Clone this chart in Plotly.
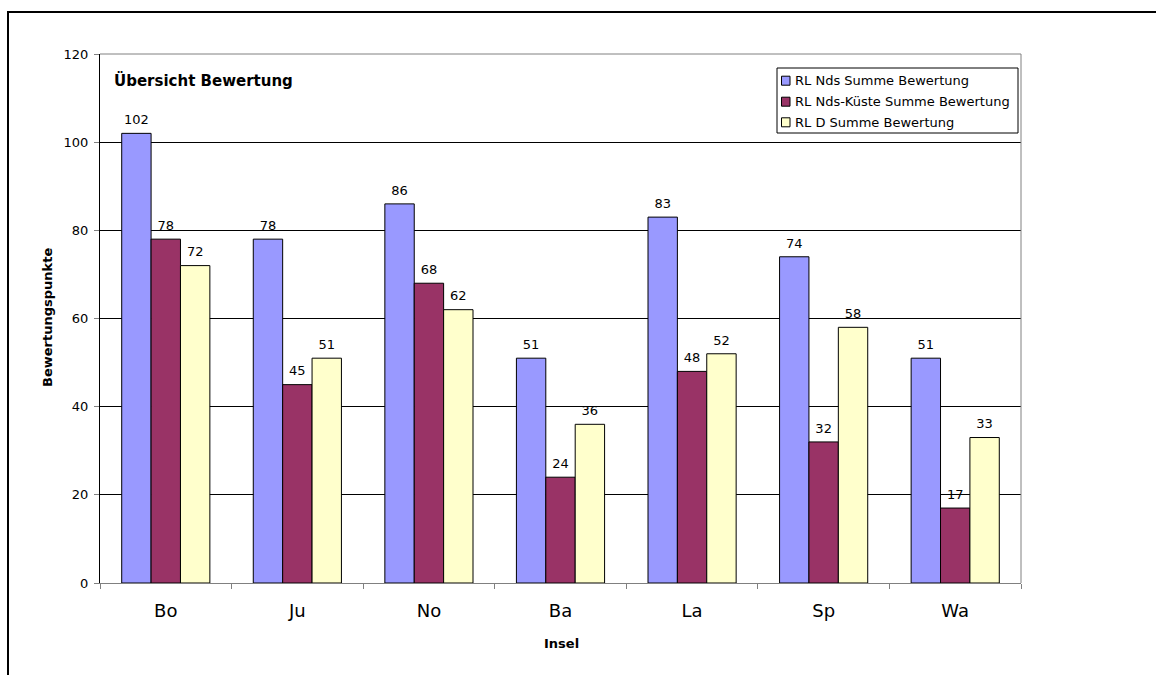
import plotly.graph_objects as go

categories = ["Bo", "Ju", "No", "Ba", "La", "Sp", "Wa"]
series_names = ["RL Nds Summe Bewertung", "RL Nds-Küste Summe Bewertung", "RL D Summe Bewertung"]
nds = [102, 78, 86, 51, 83, 74, 51]
nds_kueste = [78, 45, 68, 24, 48, 32, 17]
d_summe = [72, 51, 62, 36, 52, 58, 33]
colors = ["#9999FF", "#993366", "#FFFFCC"]

W, H = 1156, 675
L, R, T, B = 100, 1021, 54, 583          # plot area in page pixels
pw, ph = R - L, B - T

def px(x):
    return (x - L) / pw

def py(y):
    return (B - y) / ph

FONT = "DejaVu Sans, Verdana, sans-serif"

fig = go.Figure()
for i, (name, vals, col) in enumerate(zip(series_names, [nds, nds_kueste, d_summe], colors)):
    fig.add_trace(go.Bar(
        x=categories, y=vals, name=name, offsetgroup=str(i),
        marker=dict(color=col, line=dict(color="black", width=1)),
        showlegend=False, hoverinfo="skip",
    ))
for i, vals in enumerate([nds, nds_kueste, d_summe]):
    fig.add_trace(go.Scatter(
        x=categories, y=vals, offsetgroup=str(i), mode="markers+text",
        marker=dict(size=8, color="rgba(0,0,0,0)"),
        text=[str(v) for v in vals], textposition="top center",
        textfont=dict(family=FONT, size=13, color="black"),
        cliponaxis=False, showlegend=False, hoverinfo="skip",
    ))

shapes = [
    dict(type="line", xref="paper", yref="paper", x0=0, x1=1, y0=1, y1=1,
         line=dict(color="#808080", width=1), layer="above"),
    dict(type="line", xref="paper", yref="paper", x0=1, x1=1, y0=0, y1=1,
         line=dict(color="#808080", width=1), layer="above"),
    # outer frame (top and left visible)
    dict(type="line", xref="paper", yref="paper", x0=px(8), x1=px(1170), y0=py(12), y1=py(12),
         line=dict(color="black", width=2), layer="above"),
    dict(type="line", xref="paper", yref="paper", x0=px(8), x1=px(8), y0=py(11), y1=py(700),
         line=dict(color="black", width=2), layer="above"),
    # legend box
    dict(type="rect", xref="paper", yref="paper", x0=px(777), x1=px(1018), y0=py(68), y1=py(133),
         line=dict(color="black", width=1), fillcolor="white", layer="above"),
]

annotations = [
    dict(text="<b>Übersicht Bewertung</b>", xref="paper", yref="paper",
         x=px(112), y=py(80), xanchor="left", yanchor="middle", showarrow=False,
         font=dict(size=15, family=FONT, color="black")),
    dict(text="<b>Insel</b>", xref="paper", yref="paper",
         x=px(561), y=py(643), xanchor="center", yanchor="middle", showarrow=False,
         font=dict(size=13, family=FONT, color="black")),
    dict(text="<b>Bewertungspunkte</b>", xref="paper", yref="paper",
         x=px(47), y=py(318), xanchor="center", yanchor="middle", showarrow=False,
         textangle=-90, font=dict(size=13, family=FONT, color="black")),
]

# custom legend entries
row_y = [80.7, 101.7, 122.3]
for name, col, ry in zip(series_names, colors, row_y):
    shapes.append(dict(type="rect", xref="paper", yref="paper",
                       x0=px(781.5), x1=px(790), y0=py(ry - 4.5), y1=py(ry + 4.5),
                       line=dict(color="black", width=1), fillcolor=col, layer="above"))
    annotations.append(dict(text=name, xref="paper", yref="paper",
                            x=px(793), y=py(ry), xanchor="left", yanchor="middle",
                            showarrow=False, font=dict(size=13, family=FONT, color="black")))

fig.update_layout(
    width=W, height=H,
    margin=dict(l=L, r=W - R, t=T, b=H - B, pad=0),
    paper_bgcolor="white", plot_bgcolor="white",
    barmode="group", bargap=0.33, bargroupgap=0,
    scattermode="group", scattergap=0.33,
    font=dict(family=FONT, size=13, color="black"),
    showlegend=False,
    xaxis=dict(
        showgrid=False, showline=True, linecolor="#808080", linewidth=1,
        ticks="outside", tickson="boundaries", ticklen=5, tickcolor="#808080",
        tickfont=dict(size=18, family=FONT, color="black"),
        ticklabelstandoff=11,
        zeroline=False,
    ),
    yaxis=dict(
        range=[0, 120], tickvals=[0, 20, 40, 60, 80, 100, 120],
        showgrid=True, gridcolor="black", gridwidth=1,
        showline=True, linecolor="black", linewidth=1,
        ticks="outside", ticklen=5, tickcolor="#808080",
        tickfont=dict(size=13, family=FONT, color="black"),
        ticklabelstandoff=3,
        zeroline=False,
    ),
    shapes=shapes,
    annotations=annotations,
)

fig.write_html(
    "out.html",
    config={"displayModeBar": False},
    post_script="document.body.style.margin='0';document.body.style.overflow='hidden';",
)
